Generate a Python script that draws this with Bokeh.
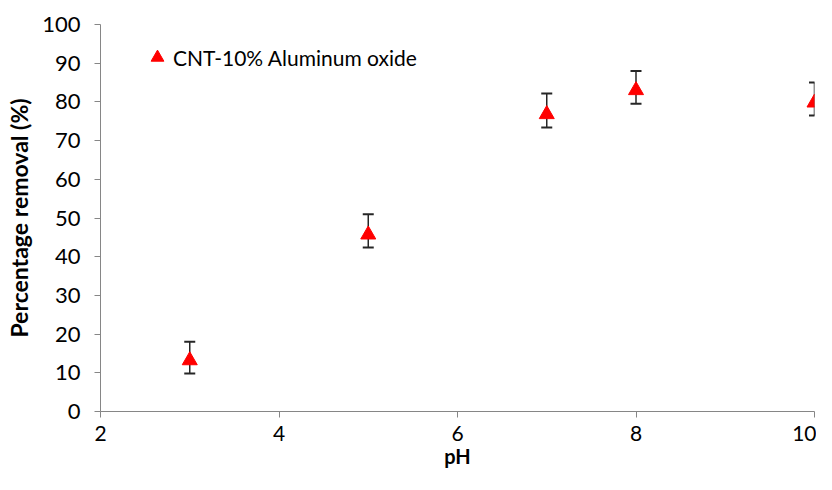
from bokeh.plotting import figure
from bokeh.models import ColumnDataSource, Whisker, TeeHead, Legend, LegendItem, FixedTicker, Range1d
from bokeh.embed import file_html
from bokeh.resources import INLINE

ph = [3, 5, 7, 8, 10]
removal = [13.2, 45.7, 76.8, 83.0, 79.8]
err_upper = [18.0, 51.0, 82.2, 88.0, 85.0]
err_lower = [9.8, 42.4, 73.4, 79.5, 76.5]
x_ticks = [2, 4, 6, 8, 10]
y_ticks = [0, 10, 20, 30, 40, 50, 60, 70, 80, 90, 100]
series_name = "CNT-10% Aluminum oxide"

FONT = "Lato"

p = figure(width=816, height=474, output_backend="svg", toolbar_location=None,
           x_range=Range1d(2, 10), y_range=Range1d(0, 100),
           min_border_left=100, min_border_right=2, min_border_top=24, min_border_bottom=63)
p.outline_line_color = None
p.xgrid.grid_line_color = None
p.ygrid.grid_line_color = None

src = ColumnDataSource(dict(x=ph, y=removal, upper=err_upper, lower=err_lower))

w = Whisker(source=src, base="x", upper="upper", lower="lower",
            line_color="#262626", line_width=1.5,
            upper_head=TeeHead(size=11, line_color="#262626", line_width=2),
            lower_head=TeeHead(size=11, line_color="#262626", line_width=2))
p.add_layout(w)

r = p.scatter("x", "y", source=src, marker="triangle", size=15,
              fill_color="#ff0000", line_color="#ff0000")

for ax in (p.xaxis[0], p.yaxis[0]):
    ax.axis_line_color = "#868686"
    ax.major_tick_line_color = "#868686"
    ax.major_tick_out = 6
    ax.major_tick_in = 0
    ax.minor_tick_line_color = None
    ax.major_label_text_font = FONT
    ax.major_label_text_font_size = "22px"
    ax.major_label_text_color = "#000000"
    ax.axis_label_text_font = FONT
    ax.axis_label_text_font_size = "22px"
    ax.axis_label_text_font_style = "bold"
    ax.axis_label_text_color = "#000000"

p.xaxis[0].ticker = FixedTicker(ticks=x_ticks)
p.yaxis[0].ticker = FixedTicker(ticks=y_ticks)
p.xaxis[0].axis_label = "pH"
p.yaxis[0].axis_label = "Percentage removal (%)"
p.yaxis[0].axis_label_text_font_size = "23px"
p.xaxis[0].major_label_text_font_size = "21px"
p.xaxis[0].axis_label_text_font_size = "20px"
p.xaxis[0].major_label_standoff = 8
p.xaxis[0].axis_label_standoff = 0
p.yaxis[0].major_label_standoff = 14
p.yaxis[0].axis_label_standoff = 6

legend = Legend(items=[LegendItem(label=series_name, renderers=[r])],
                location=(41, 338), padding=0, margin=0, spacing=0,
                border_line_color=None, background_fill_alpha=0,
                glyph_width=32, glyph_height=32, label_standoff=-3,
                label_text_font=FONT, label_text_font_size="21px",
                label_text_color="#000000")
p.add_layout(legend)

open("out.html", "w").write(file_html(p, INLINE))
